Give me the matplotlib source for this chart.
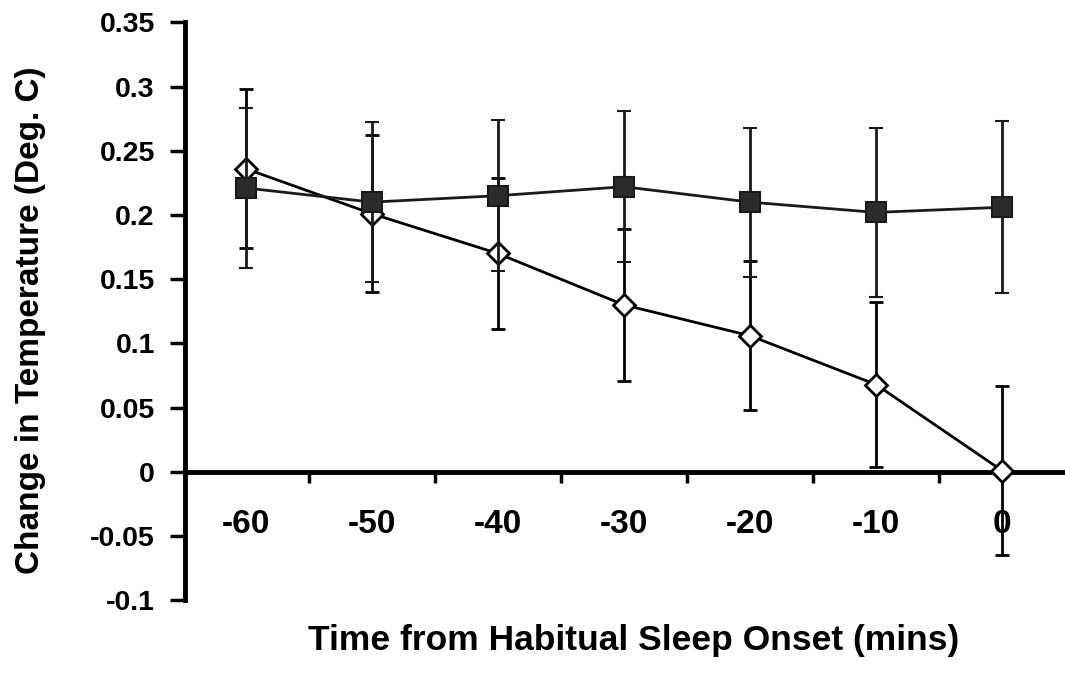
import matplotlib
matplotlib.use("Agg")
import matplotlib.pyplot as plt
import numpy as np

# minutes before habitual sleep onset
mins = ['-60', '-50', '-40', '-30', '-20', '-10', '0']

# filled squares
sq_mean = [0.221, 0.210, 0.215, 0.222, 0.210, 0.202, 0.206]
sq_err = [0.062, 0.062, 0.059, 0.059, 0.058, 0.066, 0.067]

# open diamonds
dm_mean = [0.236, 0.201, 0.170, 0.130, 0.106, 0.068, 0.001]
dm_err = [0.062, 0.061, 0.059, 0.059, 0.058, 0.064, 0.066]

ytick_vals = [0.35, 0.3, 0.25, 0.2, 0.15, 0.1, 0.05, 0, -0.05, -0.1]
ytick_text = ['0.35', '0.3', '0.25', '0.2', '0.15', '0.1', '0.05', '0', '-0.05', '-0.1']

plt.rcParams['font.family'] = ['Liberation Sans', 'DejaVu Sans']
plt.rcParams['font.weight'] = 'bold'

fig = plt.figure(figsize=(10.65, 6.76), dpi=100)
ax = fig.add_axes([0.174, 0.112, 0.826, 0.855])

x = np.arange(len(mins))

ax.errorbar(x, dm_mean, yerr=dm_err, color='black', lw=2, elinewidth=2,
            capsize=5, capthick=2, marker='D', ms=11, mfc='white', mec='black',
            mew=2, zorder=3, clip_on=False)
ax.errorbar(x, sq_mean, yerr=sq_err, color='#1a1a1a', lw=2, elinewidth=2,
            capsize=5, capthick=2, marker='s', ms=14, mfc='#2b2b2b', mec='#1a1a1a',
            mew=1.5, zorder=4, clip_on=False)

ax.set_xlim(-0.48, 6.5)
ax.set_ylim(-0.1, 0.35)

ax.spines['top'].set_visible(False)
ax.spines['right'].set_visible(False)
ax.spines['bottom'].set_position(('data', 0))
ax.spines['bottom'].set_linewidth(3.5)
ax.spines['left'].set_linewidth(3.5)

ax.set_yticks(ytick_vals)
ax.set_yticklabels(ytick_text)
ax.tick_params(axis='y', length=11, width=2.5, pad=11, labelsize=20.5)

# category labels sit below the zero line, tick marks fall between categories
ax.set_xticks(x)
ax.set_xticklabels(mins)
ax.set_xticks(x[:-1] + 0.5, minor=True)
ax.tick_params(axis='x', which='major', length=0, pad=27, labelsize=24)
ax.tick_params(axis='x', which='minor', length=8, width=2.5, direction='out')

ax.set_ylabel('Change in Temperature (Deg. C)', fontsize=24, fontweight='bold', va='center')
ax.yaxis.set_label_coords(-0.176, 0.484)
ax.set_xlabel('Time from Habitual Sleep Onset (mins)', fontsize=25.5, fontweight='bold', va='center')
ax.xaxis.set_label_coords(0.51, -0.07)

fig.savefig('out.png', dpi=100)
